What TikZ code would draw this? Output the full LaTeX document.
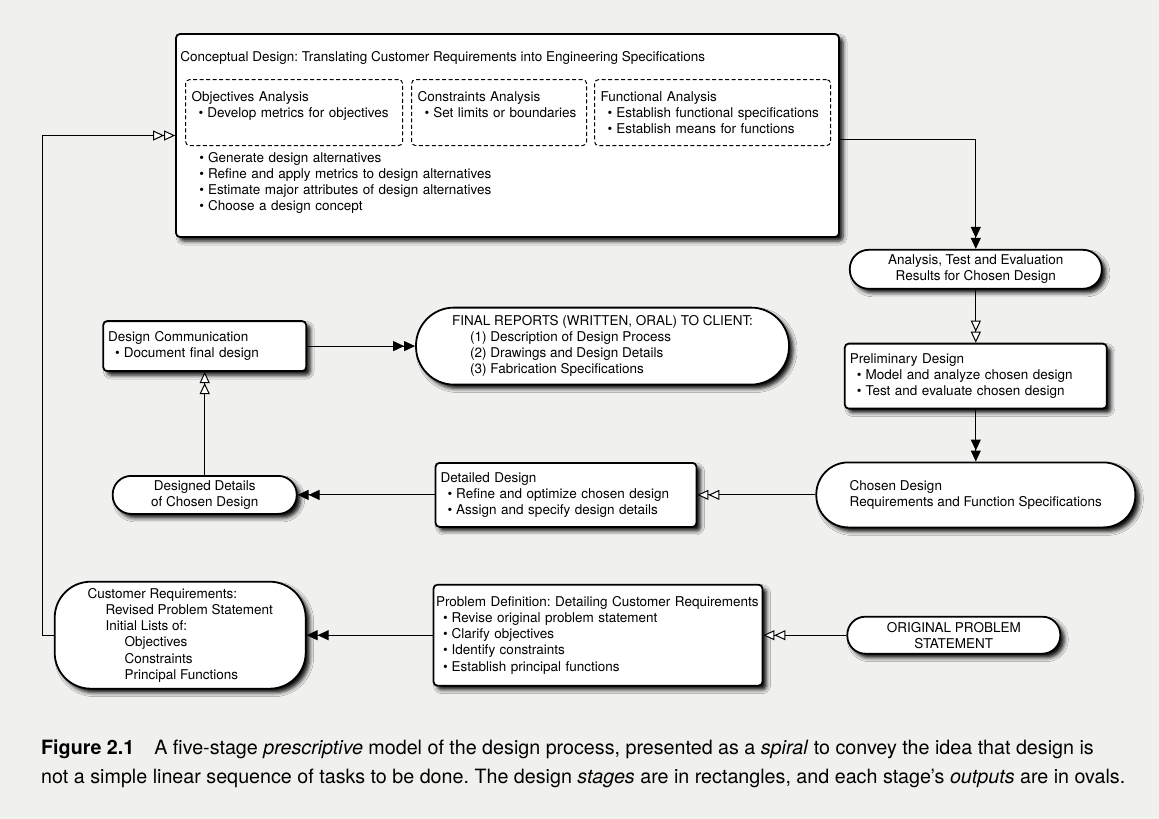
\documentclass[tikz,border=0pt]{standalone}
\usepackage{fontspec}
\setmainfont{TeX Gyre Heros}
\usepackage{tikz}
\usetikzlibrary{arrows.meta,positioning,shadows.blur}
\definecolor{paper}{RGB}{240, 240, 238}
\newcommand{\dfont}{\fontsize{13.5}{16.2}\selectfont}
\newcommand{\itm}{\hspace*{7pt}\textbullet\hspace{4pt}}
\tikzstyle{stagebox} = [rectangle, draw=black, line width=1.8pt, rounded corners=4pt, fill=white, font=\dfont, align=left, inner xsep=5pt, inner ysep=0pt, blur shadow={shadow xshift=4pt, shadow yshift=-4pt, shadow blur radius=4pt, shadow opacity=95}]
\tikzstyle{outoval} = [rectangle, draw=black, line width=1.8pt, fill=white, font=\dfont, inner sep=0pt, blur shadow={shadow xshift=4pt, shadow yshift=-4pt, shadow blur radius=4pt, shadow opacity=95}]
\tikzstyle{taskbox} = [rectangle, draw=black, line width=1pt, dash pattern=on 4pt off 2.5pt, rounded corners=4pt, font=\dfont, align=left, inner xsep=6pt, inner ysep=0pt, minimum height=66pt]
\tikzstyle{plain} = [font=\dfont, align=left, inner sep=0pt]
\tikzstyle{fedge} = [draw, line width=1pt, -{Triangle[length=11pt,width=10pt,sep=0pt]Triangle[length=11pt,width=10pt,sep=0pt]}]
\tikzstyle{oedge} = [draw, line width=1pt, -{Triangle[open,fill=white,length=11pt,width=10pt,sep=0pt]Triangle[open,fill=white,length=11pt,width=10pt,sep=0pt]}]
\begin{document}
\frenchspacing\hyphenpenalty=10000
\begin{tikzpicture}

\fill[paper] (0,0) rectangle (1159pt,-819pt);
\useasboundingbox (0,0) rectangle (1159pt,-819pt);

% conceptual design =============================
\node[stagebox, minimum width=663pt, minimum height=203pt] (concept) at (507.5pt,-135.5pt) {};
\node[plain, below right=18pt and 5pt of concept.north west] (ctitle) {Conceptual Design: Translating Customer Requirements into Engineering Specifications};
\node[taskbox, text width=205pt, below right=46pt and 10pt of concept.north west] (objan) {Objectives Analysis\\ \itm Develop metrics for objectives\\ \mbox{}};
\node[taskbox, text width=163pt, right=8pt of objan] (consan) {Constraints Analysis\\ \itm Set limits or boundaries\\ \mbox{}};
\node[taskbox, text width=224pt, right=7pt of consan] (funcan) {Functional Analysis\\ \itm Establish functional specifications\\ \itm Establish means for functions};
\node[plain, text width=400pt, below right=6pt and 7pt of objan.south west] (alts) {\itm Generate design alternatives\\ \itm Refine and apply metrics to design alternatives\\ \itm Estimate major attributes of design alternatives\\ \itm Choose a design concept};

% right column
\node[outoval, rounded corners=19pt, minimum width=252pt, minimum height=39pt, align=center, below right=11pt and 9pt of concept] (ate) {Analysis, Test and Evaluation\\ Results for Chosen Design};
\node[stagebox, text width=252pt, minimum height=65pt, below=53pt of ate] (prelim) {Preliminary Design\\ \itm Model and analyze chosen design\\ \itm Test and evaluate chosen design};
\node[outoval, rounded corners=32pt, minimum width=319pt, minimum height=65pt, align=left, below=52pt of prelim] (chosen) {Chosen Design\\ Requirements and Function Specifications};

% middle and left
\node[stagebox, text width=251pt, minimum height=64pt, left=118pt of chosen] (detail) {Detailed Design\\ \itm Refine and optimize chosen design\\ \itm Assign and specify design details};
\node[outoval, rounded corners=18.5pt, minimum width=184pt, minimum height=38pt, align=center, left=137pt of detail] (ddetail) {Designed Details\\ of Chosen Design};
\node[stagebox, text width=193pt, minimum height=50pt, above=103pt of ddetail] (comm) {Design Communication\\ \itm Document final design};
\node[outoval, rounded corners=38pt, minimum width=373pt, minimum height=77pt, align=left, right=108pt of comm] (final) {FINAL REPORTS (WRITTEN, ORAL) TO CLIENT:\\ \hspace*{18pt}(1) Description of Design Process\\ \hspace*{18pt}(2) Drawings and Design Details\\ \hspace*{18pt}(3) Fabrication Specifications};

% bottom row
\node[stagebox, text width=324pt, inner xsep=2.5pt, minimum height=101pt, below right=56pt and -2pt of detail.south west] (probdef) {Problem Definition: Detailing Customer Requirements\\ \itm Revise original problem statement\\ \itm Clarify objectives\\ \itm Identify constraints\\ \itm Establish principal functions};
\node[outoval, rounded corners=36pt, minimum width=251pt, minimum height=107pt, align=left, left=126pt of probdef] (custreq) {Customer Requirements:\\ \hspace*{18pt}Revised Problem Statement\\ \hspace*{18pt}Initial Lists of:\\ \hspace*{37pt}Objectives\\ \hspace*{37pt}Constraints\\ \hspace*{37pt}Principal Functions};
\node[outoval, rounded corners=18pt, minimum width=213pt, minimum height=37pt, align=center, right=83pt of probdef] (orig) {ORIGINAL PROBLEM\\ STATEMENT};

% caption
\node[font=\fontsize{19.7}{28.5}\selectfont, align=left, anchor=north west, inner sep=0pt] (caption) at (41pt,-740pt) {\textbf{Figure 2.1}\hspace{20pt}A five-stage \textit{prescriptive} model of the design process, presented as a \textit{spiral} to convey the idea that design is\\ not a simple linear sequence of tasks to be done. The design \textit{stages} are in rectangles, and each stage's \textit{outputs} are in ovals.};

%edges
\path[oedge] (orig) -- (probdef);
\path[fedge] (probdef) -- (custreq);
\path[oedge] (custreq.west) -- ++(-11pt,0) |- (concept.west);
\path[fedge] ([yshift=-4pt]concept.east) -| (ate.north);
\path[oedge] (ate) -- (prelim);
\path[fedge] (prelim) -- (chosen);
\path[oedge] (chosen) -- (detail);
\path[fedge] (detail) -- (ddetail);
\path[oedge] (ddetail) -- (comm);
\path[fedge] (comm) -- (final);

\end{tikzpicture}
\end{document}
